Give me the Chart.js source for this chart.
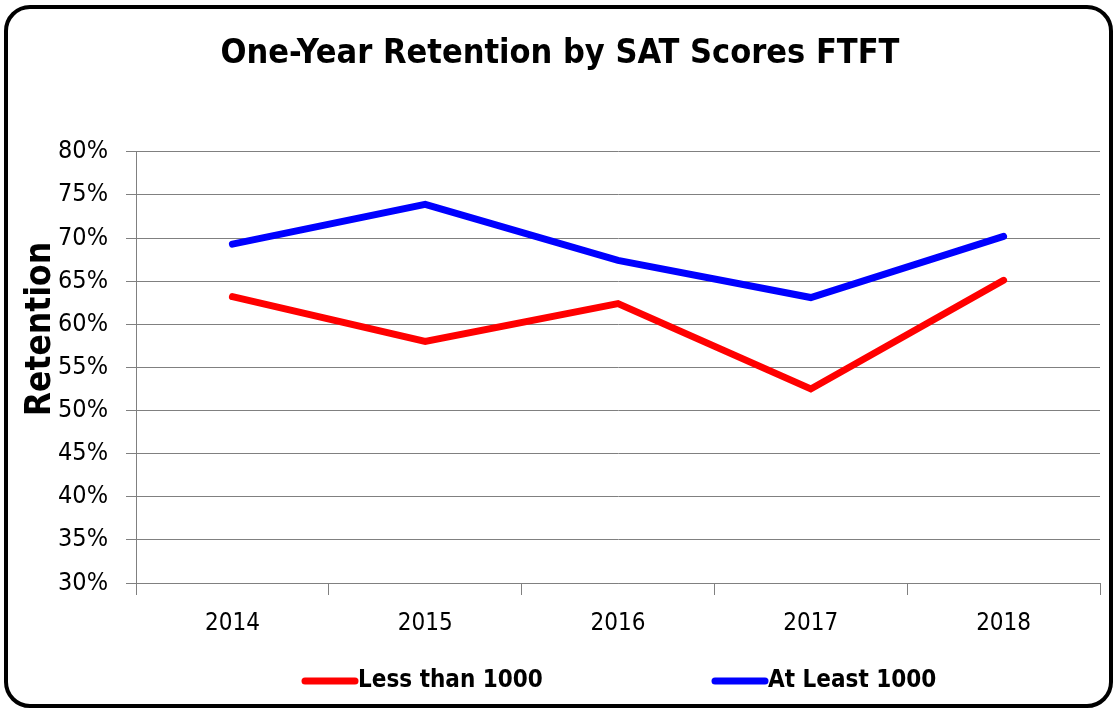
<!DOCTYPE html>
<html lang="en">
<head>
    <meta charset="UTF-8">
    <title>One-Year Retention by SAT Scores FTFT</title>
    <script src="https://cdn.jsdelivr.net/npm/chart.js"></script>
    <style>
        body { margin: 0; background: #fff; }
        .frame {
            position: absolute; left: 4px; top: 5px;
            width: 1101px; height: 695px;
            border: 4px solid #000; border-radius: 26px;
        }
        .chart-box { position: absolute; left: 0; top: 0; width: 1116px; height: 711px; }
    </style>
</head>
<body>
    <div class="frame"></div>
    <div class="chart-box">
        <canvas id="retentionChart" width="1116" height="711"></canvas>
    </div>

    <script>
        const years = ["2014", "2015", "2016", "2017", "2018"];
        const lessThan1000 = [63.2, 58.0, 62.4, 52.5, 65.1];
        const atLeast1000 = [69.3, 73.9, 67.4, 63.1, 70.2];
        const seriesNames = ["Less than 1000", "At Least 1000"];
        const seriesColors = ["#ff0000", "#0000ff"];

        const FONT = "'Liberation Sans Narrow', 'DejaVu Sans Condensed', Arial, sans-serif";

        // legend drawn by hand so the two items sit far apart like the original
        const wideLegend = {
            id: "wideLegend",
            afterDraw(chart) {
                const ctx = chart.ctx;
                const y = 681;
                const starts = [302, 712];
                ctx.save();
                ctx.font = "bold 24px " + FONT;
                ctx.textBaseline = "middle";
                chart.data.datasets.forEach((ds, i) => {
                    const x = starts[i];
                    ctx.strokeStyle = ds.borderColor;
                    ctx.lineWidth = 7;
                    ctx.lineCap = "round";
                    ctx.beginPath();
                    ctx.moveTo(x + 3, y);
                    ctx.lineTo(x + 53, y);
                    ctx.stroke();
                    ctx.fillStyle = "#000";
                    ctx.fillText(ds.label, x + 56, y);
                });
                ctx.restore();
            }
        };

        const ctx = document.getElementById("retentionChart").getContext("2d");

        new Chart(ctx, {
            type: "line",
            data: {
                labels: years,
                datasets: [
                    { label: seriesNames[0], data: lessThan1000, borderColor: seriesColors[0] },
                    { label: seriesNames[1], data: atLeast1000, borderColor: seriesColors[1] }
                ]
            },
            options: {
                responsive: false,
                animation: false,
                layout: { padding: { left: 20, right: 16, top: 10, bottom: 0 } },
                elements: {
                    line: { borderWidth: 7, tension: 0, borderCapStyle: "round", borderJoinStyle: "miter" },
                    point: { radius: 0 }
                },
                plugins: {
                    legend: { display: false },
                    tooltip: { enabled: false },
                    title: {
                        display: true,
                        text: "One-Year Retention by SAT Scores FTFT",
                        color: "#000",
                        font: { family: FONT, size: 34, weight: "bold" },
                        padding: { top: 24, bottom: 77 }
                    }
                },
                scales: {
                    x: {
                        offset: true,
                        grid: { offset: true, drawOnChartArea: false, color: "#808080", tickLength: 12 },
                        border: { color: "#808080" },
                        ticks: { color: "#000", font: { family: FONT, size: 24 }, padding: 14 },
                        afterFit(scale) { scale.height = 128; }
                    },
                    y: {
                        min: 30,
                        max: 80,
                        grid: { color: "#808080", tickLength: 10 },
                        border: { color: "#808080" },
                        ticks: {
                            stepSize: 5,
                            color: "#000",
                            font: { family: FONT, size: 25 },
                            padding: 18,
                            callback: v => v + "%"
                        },
                        title: {
                            display: true,
                            // leading spaces lift the word above the axis middle, as in the original
                            text: "       Retention",
                            color: "#000",
                            font: { family: FONT, size: 35, weight: "bold" },
                            padding: 0
                        },
                        afterFit(scale) { scale.width = 116; }
                    }
                }
            },
            plugins: [wideLegend]
        });
    </script>
</body>
</html>
